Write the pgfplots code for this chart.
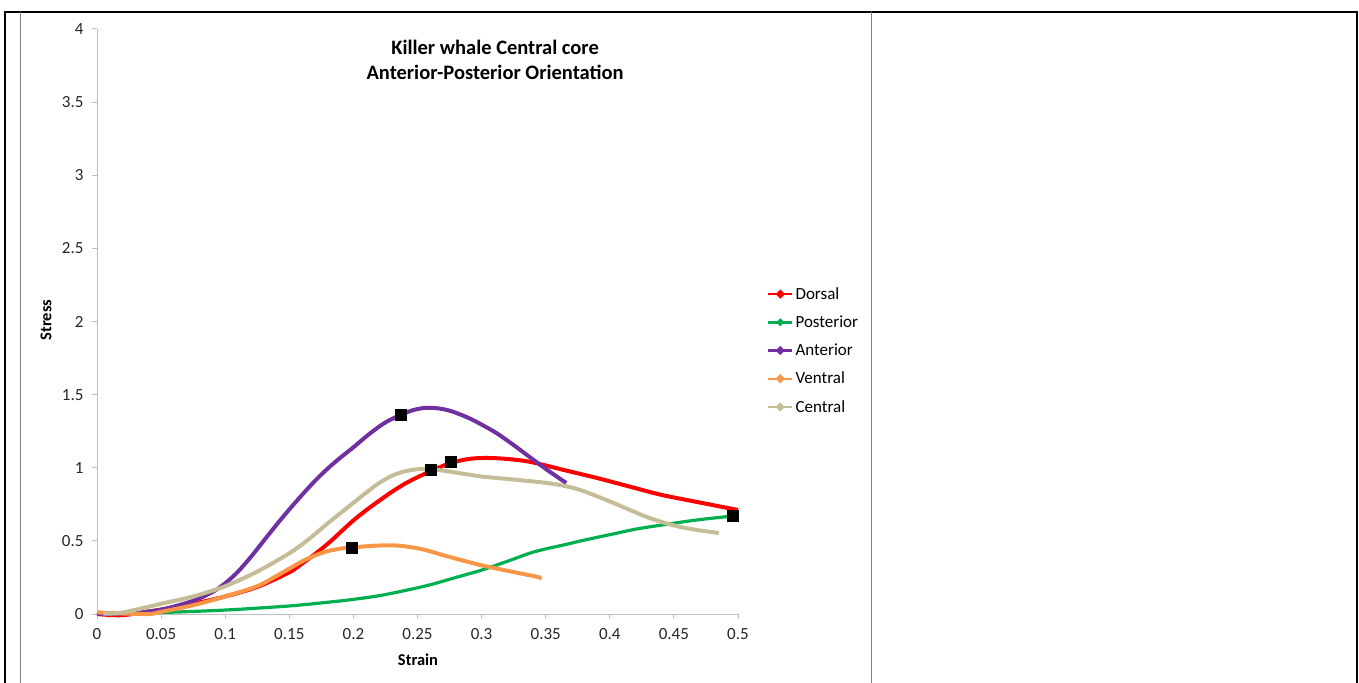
\documentclass[border=0pt]{standalone}
\usepackage{fontspec}
\setmainfont{Carlito}
\usepackage{pgfplots}
\pgfplotsset{compat=1.18}
\definecolor{cDor}{HTML}{FF0000}
\definecolor{cPos}{HTML}{00B050}
\definecolor{cAnt}{HTML}{7030A0}
\definecolor{cVen}{HTML}{F79646}
\definecolor{cCen}{HTML}{C4BD97}
\definecolor{axgray}{HTML}{BFBFBF}
\newcommand{\fs}{\fontsize{17bp}{20bp}\selectfont}
\begin{document}
\begin{tikzpicture}
\path[use as bounding box] (0,0) rectangle (1359bp,683bp);
\draw[black, line width=2.2bp] (4bp,671bp) -- (1358bp,671bp);
\draw[black, line width=2.2bp] (5bp,672bp) -- (5bp,0bp);
\draw[black, line width=2.2bp] (1357bp,672bp) -- (1357bp,0bp);
\draw[gray, line width=1bp] (20bp,671bp) -- (20bp,0bp);
\draw[gray, line width=1bp] (871bp,671bp) -- (871bp,0bp);
\begin{axis}[
  at={(97bp,69bp)}, anchor=south west,
  scale only axis, width=641bp, height=585bp,
  xmin=0, xmax=0.5, ymin=0, ymax=4,
  axis x line=bottom, axis y line=left,
  axis line style={draw=axgray, line width=1bp, -},
  tick style={draw=axgray, line width=1bp},
  tick align=outside, major tick length=5bp,
  xtick={0,0.05,0.1,0.15,0.2,0.25,0.3,0.35,0.4,0.45,0.5},
  xticklabels={0,0.05,0.1,0.15,0.2,0.25,0.3,0.35,0.4,0.45,0.5},
  ytick={0,0.5,1,1.5,2,2.5,3,3.5,4},
  yticklabels={0,0.5,1,1.5,2,2.5,3,3.5,4},
  ticklabel style={font=\fs, text=black!85},
  yticklabel style={xshift=-5bp},
  xticklabel style={yshift=-6bp},
  xlabel={\textbf{Strain}}, ylabel={\textbf{Stress}},
  label style={font=\fontsize{16.5bp}{19bp}\selectfont},
  xlabel style={at={(axis description cs:0.5008,-0.0786)}, anchor=center},
  ylabel style={at={(axis description cs:-0.0796,0.5026)}, anchor=center},
  legend style={draw=none, fill=none, font=\fs, at={(axis description cs:1.045,0.562)}, anchor=north west,
    row sep=11bp, inner sep=0pt, nodes={inner sep=2bp}},
  legend cell align=left,
  legend image code/.code={\draw[line width=2.5bp] (0bp,0bp) -- (24bp,0bp); \fill (12bp,0bp) circle (1.8bp);},
  clip=false,
]
\addplot[cDor, line width=4bp, smooth] coordinates {
(0,0) (0.02,-0.008) (0.05,0.03) (0.075,0.07) (0.1,0.12) (0.125,0.185) (0.15,0.285) (0.16,0.345)
(0.17,0.41) (0.18,0.48) (0.19,0.56) (0.2,0.64) (0.21,0.71) (0.221,0.78) (0.23,0.835) (0.24,0.89)
(0.25,0.935) (0.26,0.975) (0.275,1.03) (0.29,1.06) (0.304,1.067) (0.32,1.06) (0.338,1.04)
(0.364,0.985) (0.39,0.93) (0.416,0.87) (0.44,0.815) (0.468,0.766) (0.5,0.711)};
\addlegendentry{Dorsal}
\addplot[cPos, line width=3.2bp, smooth] coordinates {
(0,0) (0.05,0.01) (0.1,0.027) (0.15,0.055) (0.182,0.082) (0.2,0.1) (0.22,0.125) (0.24,0.16)
(0.26,0.2) (0.28,0.25) (0.3,0.3) (0.32,0.36) (0.338,0.417) (0.35,0.445) (0.364,0.472) (0.38,0.505)
(0.403,0.548) (0.42,0.58) (0.441,0.609) (0.468,0.643) (0.496,0.670)};
\addlegendentry{Posterior}
\addplot[cAnt, line width=4bp, smooth] coordinates {
(0,0) (0.025,0.005) (0.05,0.03) (0.075,0.09) (0.09,0.15) (0.1,0.21) (0.11,0.29) (0.12,0.39)
(0.13,0.50) (0.14,0.61) (0.15,0.715) (0.16,0.815) (0.17,0.91) (0.18,0.995) (0.19,1.07) (0.2,1.14)
(0.213,1.235) (0.225,1.31) (0.237,1.362) (0.247,1.395) (0.257,1.41) (0.267,1.405) (0.277,1.385)
(0.29,1.34) (0.3,1.295) (0.312,1.235) (0.325,1.155) (0.338,1.07) (0.352,0.98) (0.366,0.896)};
\addlegendentry{Anterior}
\addplot[cVen, line width=4bp, smooth] coordinates {
(0,0.012) (0.01,0.006) (0.04,0) (0.05,0.015) (0.075,0.06) (0.1,0.12) (0.125,0.19) (0.14,0.26)
(0.15,0.31) (0.16,0.36) (0.17,0.40) (0.18,0.43) (0.19,0.447) (0.199,0.455) (0.215,0.466)
(0.229,0.47) (0.24,0.463) (0.255,0.44) (0.273,0.395) (0.299,0.335) (0.325,0.287) (0.344,0.253)
(0.3445,0.245)};
\addlegendentry{Ventral}
\addplot[cCen, line width=4bp, smooth] coordinates {
(0.005,0.003) (0.02,0.01) (0.05,0.07) (0.075,0.12) (0.1,0.19) (0.125,0.29) (0.15,0.415)
(0.165,0.51) (0.18,0.62) (0.19,0.69) (0.2,0.76) (0.21,0.83) (0.22,0.895) (0.23,0.945) (0.24,0.975)
(0.25,0.99) (0.26,0.99) (0.27,0.98) (0.285,0.96) (0.3,0.94) (0.312,0.93) (0.33,0.915) (0.351,0.896)
(0.365,0.875) (0.377,0.848) (0.39,0.805) (0.403,0.759) (0.416,0.71) (0.429,0.663) (0.442,0.625)
(0.455,0.595) (0.47,0.572) (0.485,0.554)};
\addlegendentry{Central}
\addplot[only marks, mark=square*, mark size=5.5bp, black, forget plot] coordinates {
(0.237,1.361) (0.260,0.985) (0.276,1.039) (0.199,0.451) (0.496,0.670)};
\node[font=\bfseries\fontsize{20.5bp}{25bp}\selectfont, align=center, anchor=center]
  at (axis description cs:0.621,0.948) {Killer whale Central core\\Anterior-Posterior Orientation};
\end{axis}
\end{tikzpicture}
\end{document}
